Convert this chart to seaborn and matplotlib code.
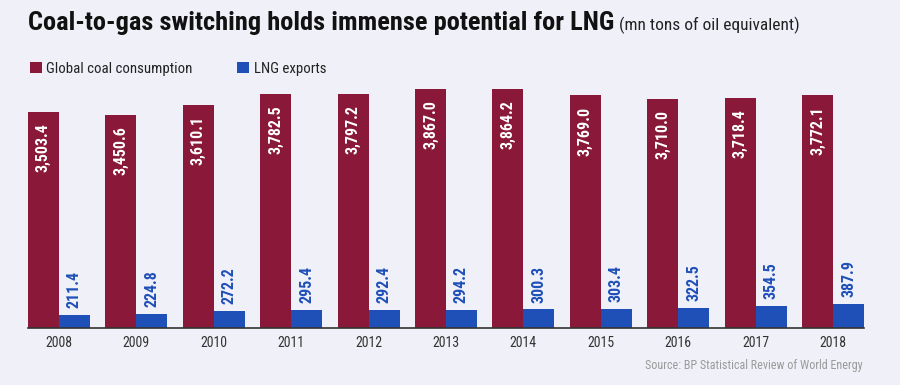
import pandas as pd
import matplotlib
matplotlib.use("Agg")
import matplotlib.pyplot as plt
import seaborn as sns
from matplotlib import font_manager

# Data (mn tons of oil equivalent)
years = ["2008", "2009", "2010", "2011", "2012", "2013", "2014", "2015", "2016", "2017", "2018"]
coal = [3503.4, 3450.6, 3610.1, 3782.5, 3797.2, 3867.0, 3864.2, 3769.0, 3710.0, 3718.4, 3772.1]
lng = [211.4, 224.8, 272.2, 295.4, 292.4, 294.2, 300.3, 303.4, 322.5, 354.5, 387.9]
series = ["Global coal consumption", "LNG exports"]

df = pd.DataFrame({
    "Year": years * 2,
    "Value": coal + lng,
    "Series": [series[0]] * len(years) + [series[1]] * len(years),
})

RED = "#8a1838"
BLUE = "#1f50b8"
BG = "#f0f1f8"

# pick a condensed font if one is around
names = {f.name for f in font_manager.fontManager.ttflist}
fam = "DejaVu Sans"
for cand in ["Roboto Condensed", "Liberation Sans Narrow", "Open Sans Condensed"]:
    if cand in names:
        fam = cand
        break

sns.set_style("white")
plt.rcParams["font.family"] = [fam, "DejaVu Sans"]
plt.rcParams["font.stretch"] = "condensed"

fig = plt.figure(figsize=(9, 3.85), dpi=100, facecolor=BG)
ax = fig.add_axes([28 / 900, 57 / 385, 836 / 900, 247 / 385])
ax.set_facecolor(BG)

sns.barplot(data=df, x="Year", y="Value", hue="Series", palette=[RED, BLUE],
            width=0.8, saturation=1, linewidth=0, edgecolor="none", ax=ax)

ax.set_xlim(-0.4, len(years) - 1 + 0.4)
ax.set_ylim(0, 4000)
ax.set_xlabel("")
ax.set_ylabel("")
ax.set_yticks([])
ax.tick_params(axis="x", length=0, labelsize=10, colors="#333333", pad=6)
for s in ["top", "left", "right"]:
    ax.spines[s].set_visible(False)
ax.spines["bottom"].set_color("#333333")
ax.spines["bottom"].set_linewidth(1.2)

# value labels
red_bars = ax.containers[0]
blue_bars = ax.containers[1]
for bar, v in zip(red_bars, coal):
    ax.annotate(f"{v:,.1f}", (bar.get_x() + bar.get_width() / 2, bar.get_height()),
                xytext=(0, -8), textcoords="offset points", rotation=90,
                ha="center", va="top", color="white", fontsize=11.5, fontweight="bold")
for bar, v in zip(blue_bars, lng):
    ax.annotate(f"{v:,.1f}", (bar.get_x() + bar.get_width() / 2, bar.get_height()),
                xytext=(0, 5), textcoords="offset points", rotation=90,
                ha="center", va="bottom", color=BLUE, fontsize=11.5, fontweight="bold")

# legend
leg = ax.legend(loc="upper left", bbox_to_anchor=(24 / 900, 1 - 56 / 385),
                bbox_transform=fig.transFigure, ncol=2, frameon=False,
                fontsize=10.7, handlelength=0.8, handleheight=0.8,
                handletextpad=0.3, columnspacing=3.0, borderaxespad=0)
for t in leg.get_texts():
    t.set_color("#222222")

# title + subtitle
title = fig.text(28 / 900, 1 - 23 / 385, "Coal-to-gas switching holds immense potential for LNG",
                 fontsize=19, fontweight="bold", color="#111111", va="center", ha="left")
fig.canvas.draw()
bb = title.get_window_extent()
fig.text((bb.x1 + 5) / 900, 1 - 25 / 385, "(mn tons of oil equivalent)",
         fontsize=12.5, color="#222222", va="center", ha="left")

fig.text(863 / 900, 1 - 366 / 385, "Source: BP Statistical Review of World Energy",
         fontsize=8.7, color="#9a9a9a", ha="right", va="center")

fig.savefig("out.png", dpi=100, facecolor=BG)
